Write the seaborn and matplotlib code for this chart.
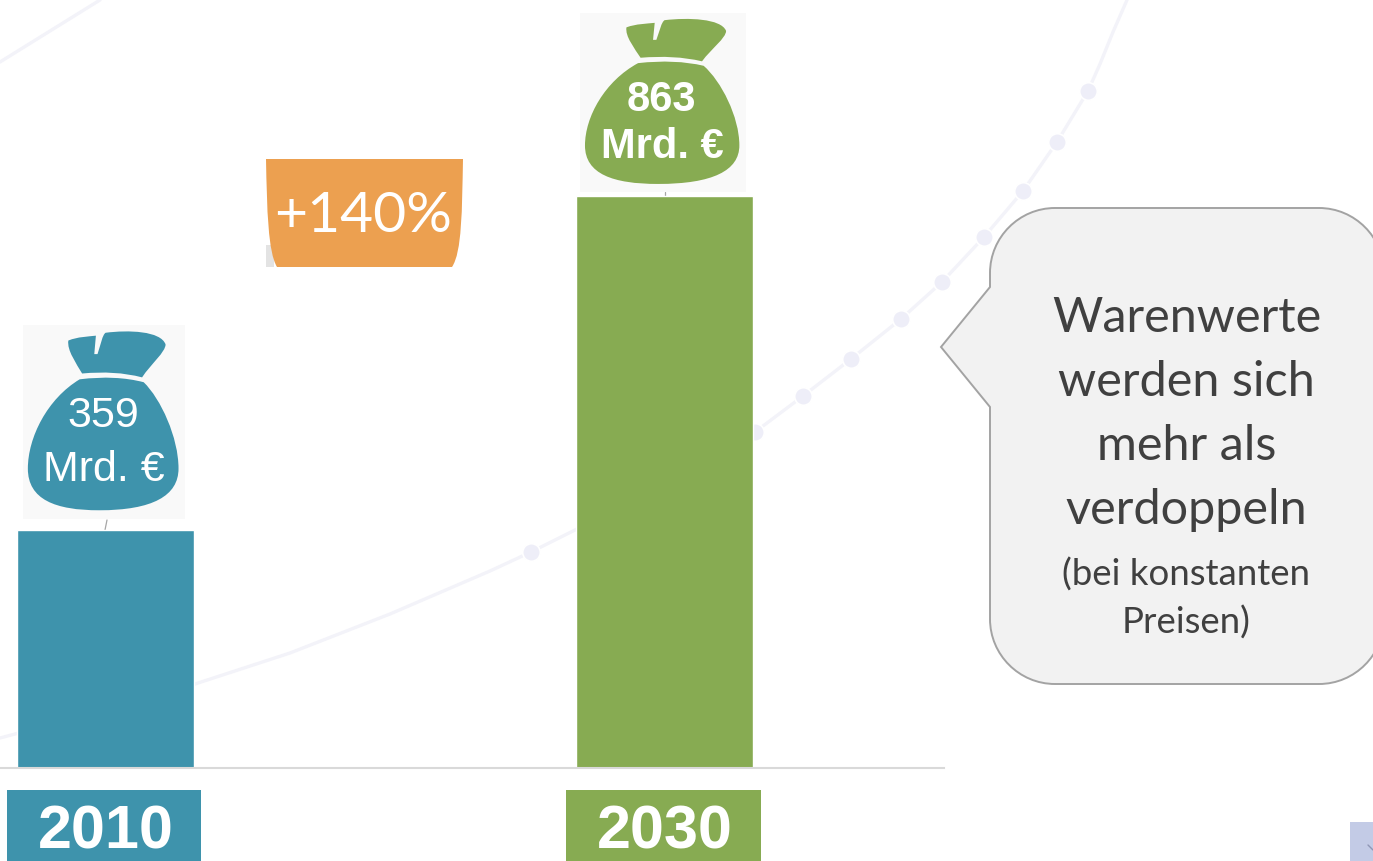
# Warenwerte 2010 vs 2030 - bars with money bags
import matplotlib
matplotlib.use("Agg")
import matplotlib.pyplot as plt
import pandas as pd
import seaborn as sns
from matplotlib.patches import PathPatch, Rectangle
from matplotlib.path import Path

sns.set_theme(style="white")
plt.rcParams["font.family"] = ["Liberation Sans", "DejaVu Sans"]

# ---- data ----
years = ["2010", "2030"]
values = [359, 863]
bag_numbers = ["359", "863"]
bag_unit = "Mrd. €"
growth_label = "+140%"
callout_lines = ["Warenwerte", "werden sich", "mehr als", "verdoppeln"]
callout_note = ["(bei konstanten", "Preisen)"]

# faint background curve (pixels)
curve_x = [0, 60, 130, 195, 290, 390, 490, 531, 577, 660, 755, 803, 851, 901, 942, 984, 1023, 1057, 1088, 1100, 1113, 1127]
curve_y = [738, 722, 705, 684, 653, 614, 571, 552, 529, 487, 432, 396, 359, 319, 282, 237, 191, 142, 91, 64, 32, 0]
dot_x = [531, 755, 803, 851, 901, 942, 984, 1023, 1057, 1088]
dot_y = [552, 432, 396, 359, 319, 282, 237, 191, 142, 91]
corner_x = [0, 100]
corner_y = [62, 0]

BLUE = "#3e93ac"
GREEN = "#87ab52"
ORANGE = "#eca050"
W, H = 1373, 861

fig = plt.figure(figsize=(W / 100, H / 100), dpi=100)

# ---- pixel layer for the decoration ----
bg = fig.add_axes([0, 0, 1, 1], zorder=0)

curve_df = pd.DataFrame({"x": curve_x, "y": curve_y})
sns.lineplot(data=curve_df, x="x", y="y", ax=bg, color="#f3f3f9", lw=2.4, sort=False)
sns.lineplot(x=corner_x, y=corner_y, ax=bg, color="#f3f3f9", lw=2.4, sort=False)
sns.scatterplot(x=dot_x, y=dot_y, ax=bg, s=160, color="#eeeef8", edgecolor="white", linewidth=1.2, zorder=3)
bg.set_xlim(0, W)
bg.set_ylim(H, 0)
bg.axis("off")


def curved(points):
    # points: first is moveto, then lists of 1 (line) or 3 (bezier) vertices
    verts, codes = [points[0]], [Path.MOVETO]
    for seg in points[1:]:
        if len(seg) == 1:
            verts.append(seg[0])
            codes.append(Path.LINETO)
        else:
            verts.extend(seg)
            codes.extend([Path.CURVE4] * 3)
    verts.append(points[0])
    codes.append(Path.CLOSEPOLY)
    return Path(verts, codes)


def draw_bag(x0, y0, w, h, color):
    bg.add_patch(Rectangle((x0, y0), w, h, fc="#f9f9f9", ec="none", zorder=4))

    def pt(x, y):
        return (x0 + x * w, y0 + y * h)

    knot = curved([
        pt(0.28, 0.08),
        [pt(0.34, 0.06), pt(0.40, 0.06), pt(0.45, 0.055)],
        [pt(0.44, 0.15)],
        [pt(0.46, 0.15)],
        [pt(0.48, 0.10), pt(0.49, 0.05), pt(0.51, 0.04)],
        [pt(0.65, 0.025), pt(0.85, 0.03), pt(0.88, 0.10)],
        [pt(0.88, 0.14), pt(0.79, 0.20), pt(0.735, 0.27)],
        [pt(0.62, 0.245), pt(0.50, 0.24), pt(0.365, 0.25)],
        [pt(0.33, 0.20), pt(0.27, 0.13), pt(0.28, 0.08)],
    ])
    body = curved([
        pt(0.35, 0.28),
        [pt(0.50, 0.265), pt(0.63, 0.27), pt(0.745, 0.295)],
        [pt(0.85, 0.38), pt(0.96, 0.58), pt(0.96, 0.74)],
        [pt(0.96, 0.88), pt(0.80, 0.955), pt(0.47, 0.955)],
        [pt(0.20, 0.955), pt(0.03, 0.90), pt(0.03, 0.74)],
        [pt(0.03, 0.58), pt(0.15, 0.38), pt(0.35, 0.28)],
    ])
    bg.add_patch(PathPatch(knot, fc=color, ec="none", zorder=5))
    bg.add_patch(PathPatch(body, fc=color, ec="none", zorder=5))


draw_bag(23, 325, 162, 194, BLUE)
draw_bag(580, 13, 166, 179, GREEN)
bag_font = dict(color="white", fontsize=31, ha="center", va="center", zorder=6)
bg.text(103, 416, bag_numbers[0], **bag_font)
bg.text(104, 470, bag_unit, **bag_font)
bag_font.update(fontsize=30, fontweight="bold")
bg.text(661, 100, bag_numbers[1], **bag_font)
bg.text(662, 147, bag_unit, **bag_font)

# small leader lines between bag and bar
bg.plot([107, 105], [520, 530], color="#a6a6a6", lw=0.9)
bg.plot([665, 665], [192, 197], color="#a6a6a6", lw=0.9)

# orange growth badge
badge = curved([
    (266, 159),
    [(463, 159)],
    [(462, 210), (462, 252), (452, 267)],
    [(277, 267)],
    [(268, 252), (267, 210), (266, 159)],
])
bg.add_patch(Rectangle((266, 245), 8, 22, fc="#e3e3e3", ec="none", zorder=2))
bg.add_patch(PathPatch(badge, fc=ORANGE, ec="none", zorder=3))
bg.text(363.5, 217, growth_label, family=["Lato"], color="white", fontsize=41, ha="center", va="center", zorder=6)

# speech bubble, runs off the right edge
R = 65
k = 0.55 * R
left, right, top, bottom = 990, 1384, 208, 684
bubble = curved([
    (left, top + R),
    [(left, top + R - k), (left + R - k, top), (left + R, top)],
    [(right - R, top)],
    [(right - R + k, top), (right, top + R - k), (right, top + R)],
    [(right, bottom - R)],
    [(right, bottom - R + k), (right - R + k, bottom), (right - R, bottom)],
    [(left + R, bottom)],
    [(left + R - k, bottom), (left, bottom - R + k), (left, bottom - R)],
    [(left, 407)],
    [(941, 347)],
    [(left, 287)],
])
bg.add_patch(PathPatch(bubble, fc="#f2f2f2", ec="#a3a3a3", lw=1.4, zorder=4))
for line, yy in zip(callout_lines, [318, 382, 446, 510]):
    bg.text(1186.5, yy, line, family=["Lato"], color="#404040", fontsize=35, ha="center", va="center", zorder=6)
for line, yy in zip(callout_note, [575, 623]):
    bg.text(1186.5, yy, line, family=["Lato"], color="#404040", fontsize=26.4, ha="center", va="center", zorder=6)

# coloured boxes behind the year labels and the scrap at the bottom right
bg.add_patch(Rectangle((7, 790), 194, 71, fc=BLUE, ec="none", zorder=4))
bg.add_patch(Rectangle((566, 790), 195, 71, fc=GREEN, ec="none", zorder=4))
bg.add_patch(Rectangle((1350, 822), 23, 39, fc="#c3cbe6", ec="none", zorder=4))
bg.plot([1368, 1373], [845, 850], color="#8f96b5", lw=1, zorder=5)

# ---- bars ----
base_px = 768
span_px = 944
ax = fig.add_axes([0, 1 - base_px / H, span_px / W, base_px / H], zorder=1)
ax.patch.set_alpha(0)
df = pd.DataFrame({"year": years, "value": values})
sns.barplot(data=df, x="year", y="value", hue="year", palette=[BLUE, GREEN], dodge=False,
            width=177.4 / 559, saturation=1, legend=False, ax=ax)
ax.set_xlim(-105.6 / 559, (span_px - 105.6) / 559)
ax.set_ylim(0, base_px * 863 / 571.6)
ax.set_xlabel("")
ax.set_ylabel("")
ax.set_yticks([])
ax.tick_params(axis="x", length=0, pad=26, labelsize=44, labelcolor="white")
for lab in ax.get_xticklabels():
    lab.set_fontweight("bold")
sns.despine(ax=ax, left=True)
ax.spines["bottom"].set_color("#d9d9d9")
ax.spines["bottom"].set_linewidth(1.5)

fig.savefig("out.png", dpi=100)
